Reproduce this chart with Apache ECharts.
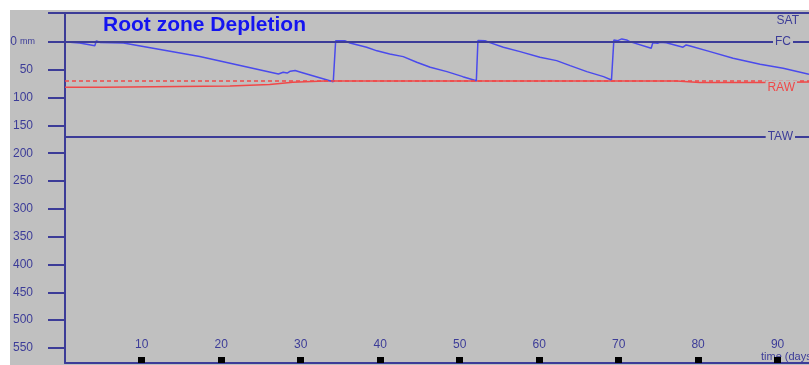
<!DOCTYPE html>
<html><head><meta charset="utf-8">
<script src="https://cdn.jsdelivr.net/npm/echarts@6/dist/echarts.min.js"></script>
<style>
html,body{margin:0;padding:0;background:#fff;}
#wrap{position:absolute;left:10px;top:10px;width:799px;height:355px;background:#c0c0c0;overflow:hidden}
#chart{width:799px;height:355px}
</style></head><body>
<div id="wrap"><div id="chart"></div></div>
<script>
// Root zone depletion (mm) against time (days)
const depletionDays = [0.6, 2.2, 4.1, 4.3, 4.8, 7.7, 17.3, 27.2, 27.8, 28.3, 28.7, 29.3, 29.9, 34.1,
  34.4, 35.6, 36.2, 38.3, 39.6, 41.2, 41.4, 42.9, 44.6, 46.3, 48.4, 50.4, 52.1,
  52.3, 53.2, 53.8, 55.5, 57.6, 60.1, 60.3, 62.2, 63.9, 66.0, 68.1, 69.1,
  69.4, 69.9, 70.4, 71.0, 71.4, 74.1, 74.3, 74.9, 75.2, 76.0, 78.1, 78.5, 79.0, 81.5, 84.4, 87.8, 90.7, 93.95];
const depletionMm = [0, 2, 7, -2, 1, 2, 26, 57.5, 54.5, 56, 52.5, 51.5, 54, 71.5,
  -2, -2, 2, 9.5, 16, 21.5, 20, 26.4, 36.5, 45.5, 53.4, 62.4, 69.6,
  -2.5, -2, 1.3, 9.5, 17.4, 27.5, 25, 33.6, 42.6, 53.4, 62.4, 68.3,
  -3.6, -2.3, -5.4, -3.6, -0.5, 11.3, 1.3, 2.3, 0.5, 1.3, 9.5, 5.4, 7.2, 17.4, 29.3, 40.1, 47.3, 58];
// adjusted readily available water (solid red)
const rawDays = [0.35, 5.2, 5.3, 21.1, 21.2, 26.1, 26.2, 29.0, 33.0, 77.3, 80.2, 88.0, 93.95];
const rawMm = [81.5, 81.5, 79, 79, 76.5, 76.5, 75, 72.5, 70, 70, 73, 73, 72];
// reference levels
const levelNames = ['SAT', 'FC', 'RAW', 'TAW'];
const levelValues = [-52, 0, 69, 170];
const xTicks = [10, 20, 30, 40, 50, 60, 70, 80, 90];
const yTicks = [0, 50, 100, 150, 200, 250, 300, 350, 400, 450, 500, 550];

const navy = '#3c3c98';
const chart = echarts.init(document.getElementById('chart'), null, {renderer: 'canvas'});
const toPairs = (xs, ys) => xs.map((x, i) => [x, ys[i]]);

const levelStyle = {
  SAT: {color: navy, pos: 'insideEndBottom', dist: [9, 1], type: 'solid', width: 2, pad: [1, 1]},
  FC: {color: navy, pos: 'insideEnd', dist: [16, 0], type: 'solid', width: 2, pad: [0, 2]},
  RAW: {color: '#f04848', pos: 'insideEndBottom', dist: [12, 0], type: [4, 3], width: 1.5, pad: [1, 2, 0, 2]},
  TAW: {color: navy, pos: 'insideEnd', dist: [14, 0], type: 'solid', width: 2, pad: [0, 2]}
};

const option = {
  animation: false,
  backgroundColor: 'transparent',
  grid: {left: 55, top: 3, right: 0, bottom: 2, containLabel: false, outerBoundsMode: 'none'},
  xAxis: {
    type: 'value', min: 0.35, max: 93.95,
    axisLine: {show: true, onZero: false, lineStyle: {color: navy, width: 2}},
    axisTick: {show: true, inside: true, length: 6, customValues: xTicks, lineStyle: {color: '#000', width: 7}},
    axisLabel: {show: true, inside: true, margin: 12, customValues: xTicks, color: navy,
      fontFamily: 'Liberation Sans, Arial', fontSize: 12},
    splitLine: {show: false}
  },
  yAxis: {
    type: 'value', inverse: true, min: -52, max: 577,
    axisLine: {show: true, onZero: false, lineStyle: {color: navy, width: 2}},
    axisTick: {show: true, inside: false, length: 17, customValues: [-52].concat(yTicks), lineStyle: {color: navy, width: 2}},
    axisLabel: {show: true, margin: 32, customValues: yTicks, color: navy, fontFamily: 'Liberation Sans, Arial', fontSize: 12,
      align: 'right',
      formatter: v => v === 0 ? '{a|0}{b|mm}' : String(v),
      rich: {a: {fontSize: 12, color: navy, fontFamily: 'Liberation Sans, Arial'},
        b: {fontSize: 9, color: navy, fontFamily: 'Liberation Sans, Arial', padding: [0, -2, 0, 3]}}
    },
    splitLine: {show: false}
  },
  series: [
    {
      type: 'line', z: 1, data: [], silent: true,
      markLine: {
        silent: true, symbol: ['none', 'none'], animation: false,
        data: levelNames.map((n, i) => {
          const s = levelStyle[n];
          return {
            name: n, yAxis: levelValues[i],
            lineStyle: {color: s.color, type: s.type, width: s.width},
            label: {show: true, formatter: n, position: s.pos, distance: s.dist, color: s.color,
              fontFamily: 'Liberation Sans, Arial', fontSize: 12, backgroundColor: '#c0c0c0', padding: s.pad}
          };
        })
      }
    },
    {
      type: 'line', z: 2, showSymbol: false, data: toPairs(rawDays, rawMm),
      lineStyle: {color: '#f04848', width: 1.5}
    },
    {
      type: 'line', z: 3, showSymbol: false, data: toPairs(depletionDays, depletionMm),
      lineStyle: {color: '#4a4aec', width: 1.5}
    }
  ],
  graphic: [
    {type: 'text', left: 93, top: 5, style: {text: 'Root zone Depletion', fill: '#1414f0',
      font: 'bold 21px "Liberation Sans", Arial'}},
    {type: 'text', left: 751, top: 341, style: {text: 'time (days)', fill: navy,
      font: '11px "Liberation Sans", Arial'}}
  ]
};
chart.setOption(option);
</script>
</body></html>
